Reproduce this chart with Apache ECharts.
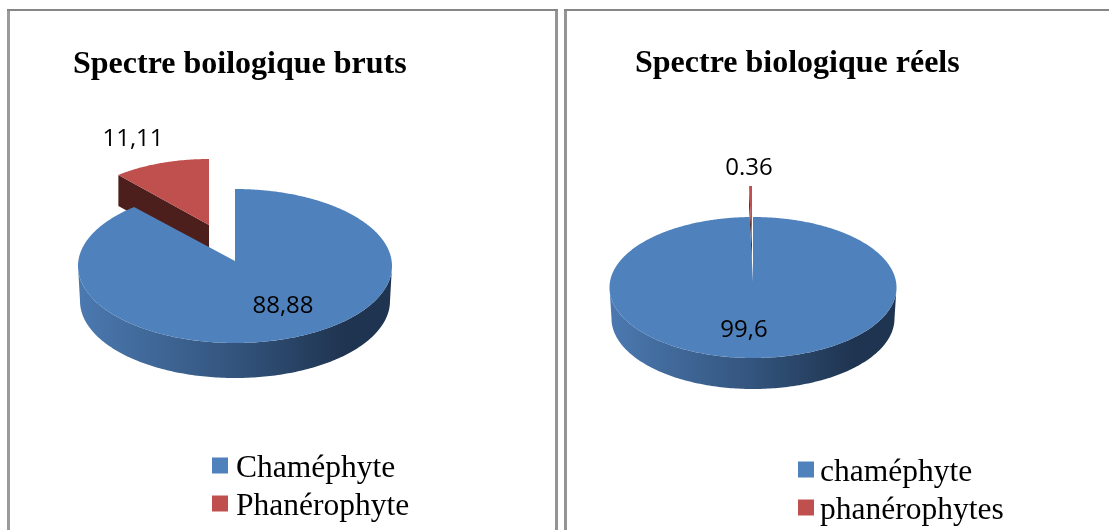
<!DOCTYPE html>
<html>
<head>
<meta charset="utf-8">
<title>Spectre biologique</title>
<style>
html,body{margin:0;padding:0;background:#fff;}
#chart{width:1109px;height:530px;}
</style>
<script src="https://cdn.jsdelivr.net/npm/echarts@6/dist/echarts.min.js"></script>
</head>
<body>
<div id="chart"></div>
<script>
// values
var rawNames = ['Chaméphyte', 'Phanérophyte'];
var rawValues = [88.88, 11.11];
var rawLabels = ['88,88', '11,11'];
var realNames = ['chaméphyte', 'phanérophytes'];
var realValues = [99.6, 0.36];
var realLabels = ['99,6', '0.36'];

var BLUE = '#4f81bd';
var RED = '#c0504d';
var SERIF = '"Liberation Serif","Times New Roman",serif';
var SANS = '"Open Sans","Noto Sans",sans-serif';

// ellipse of each slice, the red ones are pulled out and sit further back
var rawGeom = [
	{cx: 235, cy: 266, rx: 157, ry: 77, ax: 235, ay: 261, depth: 35, lx: 283, ly: 306},
	{cx: 209, cy: 227, rx: 141, ry: 68, ax: 209, ay: 225, depth: 31, lx: 133, ly: 139, wall: true}
];
var realGeom = [
	{cx: 753, cy: 287.5, rx: 143.5, ry: 70.5, ax: 753, ay: 282, depth: 31, lx: 744, ly: 330},
	{cx: 752, cy: 245, rx: 130, ry: 59, ax: 752, ay: 245, depth: 20, lx: 749, ly: 168, wall: true}
];

function slice(name, values, labels, geom, i, color) {
	var start = 0, total = 0;
	for (var k = 0; k < values.length; k++) {
		if (k < i) start += values[k];
		total += values[k];
	}
	return {
		name: name,
		type: 'custom',
		coordinateSystem: 'none',
		z: color === RED ? 1 : 2,
		silent: true,
		animation: false,
		itemStyle: {color: color},
		data: [[values[i], start, total]],
		renderItem: function (params, api) {
			return drawSlice(api.value(0), api.value(1), api.value(2), geom[i], labels[i], color);
		}
	};
}

function drawSlice(value, start, total, g, label, color) {
	var a0 = start / total * 360;
	var a1 = (start + value) / total * 360;
	function pt(deg, dy, shrink) {
		var t = deg * Math.PI / 180;
		return [g.cx + (g.rx - (shrink || 0)) * Math.sin(t), g.cy + (dy || 0) - g.ry * Math.cos(t)];
	}
	var children = [];

	// front rim, only the part that faces us
	var from = Math.max(a0, 90), to = Math.min(a1, 270);
	if (to > from) {
		var rim = [];
		for (var d = from; d <= to; d += 1) rim.push(pt(d));
		for (d = to; d >= from; d -= 1) rim.push(pt(d, g.depth, 2));
		children.push({
			type: 'polygon',
			shape: {points: rim},
			style: {
				fill: new echarts.graphic.LinearGradient(0, 0, 1, 0, [
					{offset: 0, color: '#4b79b0'},
					{offset: 0.5, color: '#33547d'},
					{offset: 0.85, color: '#1f3450'},
					{offset: 1, color: '#1f3450'}
				])
			}
		});
	}

	// cut face of the pulled out slice
	if (g.wall) {
		var e = pt(a0);
		children.push({
			type: 'polygon',
			shape: {points: [[g.ax, g.ay], e, [e[0], e[1] + g.depth], [g.ax, g.ay + g.depth]]},
			style: {fill: '#4d1f1c'}
		});
	}

	// top face
	var top = [[g.ax, g.ay]];
	for (var a = a0; a < a1; a += 0.5) top.push(pt(a));
	top.push(pt(a1));
	children.push({type: 'polygon', shape: {points: top}, style: {fill: color}});

	children.push({
		type: 'text',
		style: {
			text: label,
			x: g.lx,
			y: g.ly,
			align: 'center',
			verticalAlign: 'middle',
			fill: '#000',
			font: '24px ' + SANS
		}
	});
	return {type: 'group', children: children};
}

// panel frames
function frame(points, width, stroke) {
	return {
		type: 'polyline',
		silent: true,
		shape: {points: points},
		style: {fill: null, stroke: stroke, lineWidth: width}
	};
}

// legend text centred on its marker
function legendStyle(leftPad) {
	return {
		rich: {
			t: {fontFamily: SERIF, fontSize: 31.5, color: '#000', padding: [7, 0, 0, leftPad]}
		}
	};
}

var myChart = echarts.init(document.getElementById('chart'), null, {renderer: 'canvas'});
myChart.setOption({
	backgroundColor: '#fff',
	animation: false,
	title: [
		{text: 'Spectre boilogique bruts', left: 68, top: 44, textStyle: {fontFamily: SERIF, fontWeight: 'bold', fontSize: 32, color: '#000'}},
		{text: 'Spectre biologique réels', left: 630, top: 43, textStyle: {fontFamily: SERIF, fontWeight: 'bold', fontSize: 32, color: '#000'}}
	],
	legend: [
		{
			data: rawNames, orient: 'vertical', left: 207, top: 448, height: 120, icon: 'rect',
			itemWidth: 16, itemHeight: 16, itemGap: 6, selectedMode: false,
			formatter: '{t|{name}}', textStyle: legendStyle(3)
		},
		{
			data: realNames, orient: 'vertical', left: 793, top: 452, height: 120, icon: 'rect',
			itemWidth: 16, itemHeight: 16, itemGap: 6, selectedMode: false,
			formatter: '{t|{name}}', textStyle: legendStyle(1)
		}
	],
	graphic: [
		frame([[8.5, 530], [8.5, 9]], 3, '#9b9b9b'),
		frame([[556.5, 530], [556.5, 9]], 3, '#949494'),
		frame([[7, 10], [558, 10]], 2, '#868686'),
		frame([[565.5, 530], [565.5, 9]], 3, '#949494'),
		frame([[564, 10], [1109, 10]], 2, '#868686')
	],
	series: [
		slice(rawNames[0], rawValues, rawLabels, rawGeom, 0, BLUE),
		slice(rawNames[1], rawValues, rawLabels, rawGeom, 1, RED),
		slice(realNames[0], realValues, realLabels, realGeom, 0, BLUE),
		slice(realNames[1], realValues, realLabels, realGeom, 1, RED)
	]
});
</script>
</body>
</html>
